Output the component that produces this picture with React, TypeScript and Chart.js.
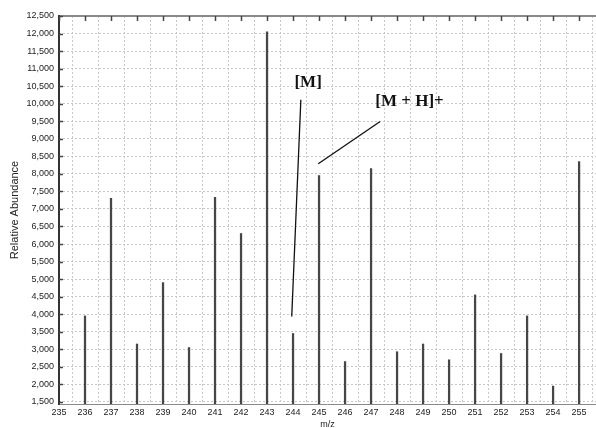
import { useEffect, useRef } from 'react';
import { Chart, registerables } from 'chart.js';

Chart.register(...registerables);

// m/z values of the peaks
const mzValues = [236, 237, 238, 239, 240, 241, 242, 243, 244, 245, 246, 247, 248, 249, 250, 251, 252, 253, 254, 255];
// relative abundance of each peak
const abundance = [3950, 7300, 3150, 4900, 3050, 7330, 6300, 12050, 3450, 7950, 2650, 8150, 2930, 3150, 2700, 4550, 2880, 3950, 1950, 8350];

// tick values
const xTickValues = [235, 236, 237, 238, 239, 240, 241, 242, 243, 244, 245, 246, 247, 248, 249, 250, 251, 252, 253, 254, 255];
const yTickValues = [1500, 2000, 2500, 3000, 3500, 4000, 4500, 5000, 5500, 6000, 6500, 7000, 7500, 8000, 8500, 9000, 9500, 10000, 10500, 11000, 11500, 12000, 12500];

// annotation labels and their anchors in data units (m/z, abundance)
const annotationLabels = ['[M]', '[M + H]+'];
const annotationLabelAt = [[244.58, 10590], [248.48, 10066]];
const annotationLineFrom = [[244.30, 10110], [247.35, 9492]];
const annotationLineTo = [[243.95, 3935], [244.97, 8290]];

const X_MIN = 235;
const X_MAX = 255.65;
const Y_MIN = 1440;
const Y_MAX = 12500;

const SANS = '"Liberation Sans", Arial, sans-serif';

const framePlugin = {
  id: 'frameAndNotes',
  afterDatasetsDraw(chart: any) {
    const { ctx, chartArea } = chart;
    const xs = chart.scales.x;
    const ys = chart.scales.y;
    ctx.save();
    ctx.setLineDash([]);
    // bottom border
    ctx.strokeStyle = '#8a8a8a';
    ctx.lineWidth = 1;
    ctx.beginPath();
    ctx.moveTo(chartArea.left, chartArea.bottom + 0.5);
    ctx.lineTo(chartArea.right, chartArea.bottom + 0.5);
    ctx.stroke();
    // top border
    ctx.lineWidth = 2;
    ctx.beginPath();
    ctx.moveTo(chartArea.left, chartArea.top);
    ctx.lineTo(chartArea.right, chartArea.top);
    ctx.stroke();
    // left axis line
    ctx.strokeStyle = '#333';
    ctx.beginPath();
    ctx.moveTo(chartArea.left, chartArea.top - 1);
    ctx.lineTo(chartArea.left, chartArea.bottom + 1);
    ctx.stroke();
    // top ticks (inward)
    ctx.strokeStyle = '#444';
    ctx.lineWidth = 1.5;
    xTickValues.forEach((v) => {
      const px = Math.round(xs.getPixelForValue(v)) + 0.5;
      ctx.beginPath();
      ctx.moveTo(px, chartArea.top);
      ctx.lineTo(px, chartArea.top + 5);
      ctx.stroke();
    });
    // left ticks (inward)
    yTickValues.forEach((v) => {
      const py = Math.round(ys.getPixelForValue(v)) + 0.5;
      ctx.beginPath();
      ctx.moveTo(chartArea.left, py);
      ctx.lineTo(chartArea.left + 4, py);
      ctx.stroke();
    });
    // annotation lines
    ctx.strokeStyle = '#111';
    ctx.lineWidth = 1.3;
    annotationLineFrom.forEach((from, i) => {
      const to = annotationLineTo[i];
      ctx.beginPath();
      ctx.moveTo(xs.getPixelForValue(from[0]), ys.getPixelForValue(from[1]));
      ctx.lineTo(xs.getPixelForValue(to[0]), ys.getPixelForValue(to[1]));
      ctx.stroke();
    });
    // annotation labels
    ctx.fillStyle = '#111';
    ctx.font = 'bold 17px "Liberation Serif", "Times New Roman", serif';
    ctx.textAlign = 'center';
    ctx.textBaseline = 'middle';
    annotationLabels.forEach((label, i) => {
      const at = annotationLabelAt[i];
      ctx.fillText(label, xs.getPixelForValue(at[0]), ys.getPixelForValue(at[1]));
    });
    ctx.restore();
  },
};

export default function App() {
  const canvasRef = useRef<HTMLCanvasElement | null>(null);

  useEffect(() => {
    const canvas = canvasRef.current;
    if (!canvas) return;
    const chart = new Chart(canvas, {
      type: 'bar',
      data: {
        datasets: [
          {
            label: 'Relative Abundance',
            data: mzValues.map((m, i) => ({ x: m, y: abundance[i] })),
            backgroundColor: '#464646',
            borderWidth: 0,
            barThickness: 1.6,
          },
        ],
      },
      options: {
        responsive: false,
        animation: false,
        layout: { padding: { top: 16, left: 0, right: 0, bottom: 0 } },
        plugins: {
          legend: { display: false },
          tooltip: { enabled: false },
        },
        scales: {
          x: {
            type: 'linear',
            min: X_MIN,
            max: X_MAX,
            offset: false,
            afterBuildTicks: (scale: any) => {
              scale.ticks = xTickValues.map((v) => ({ value: v }));
            },
            afterFit: (scale: any) => {
              scale.height = 24;
            },
            grid: {
              display: true,
              color: '#c8c8c8',
              lineWidth: 1,
              drawTicks: false,
            },
            border: { display: false, dash: [2, 2] },
            ticks: {
              padding: 3,
              color: '#222',
              font: { family: SANS, size: 9 },
              maxRotation: 0,
              autoSkip: false,
              callback: (v: any) => String(v),
            },
            title: {
              display: true,
              text: 'm/z',
              color: '#222',
              font: { family: SANS, size: 9 },
              padding: { top: 0, bottom: -2 },
            },
          },
          y: {
            type: 'linear',
            min: Y_MIN,
            max: Y_MAX,
            afterBuildTicks: (scale: any) => {
              scale.ticks = yTickValues.map((v) => ({ value: v }));
            },
            afterFit: (scale: any) => {
              scale.width = 59;
            },
            grid: {
              display: true,
              color: '#c8c8c8',
              lineWidth: 1,
              drawTicks: false,
            },
            border: { display: false, dash: [2, 2] },
            ticks: {
              padding: 5,
              color: '#222',
              font: { family: SANS, size: 9 },
              autoSkip: false,
              callback: (v: any) => Number(v).toLocaleString('en-US'),
            },
            title: {
              display: true,
              text: 'Relative Abundance',
              color: '#222',
              font: { family: SANS, size: 11 },
              padding: { top: 8, bottom: 0 },
            },
          },
        },
      },
      plugins: [framePlugin],
    } as any);
    return () => chart.destroy();
  }, []);

  return (
    <div style={{ position: 'fixed', left: 0, top: 0, width: 596, height: 428, background: '#fff' }}>
      <canvas ref={canvasRef} width={596} height={428} style={{ display: 'block' }} />
    </div>
  );
}
